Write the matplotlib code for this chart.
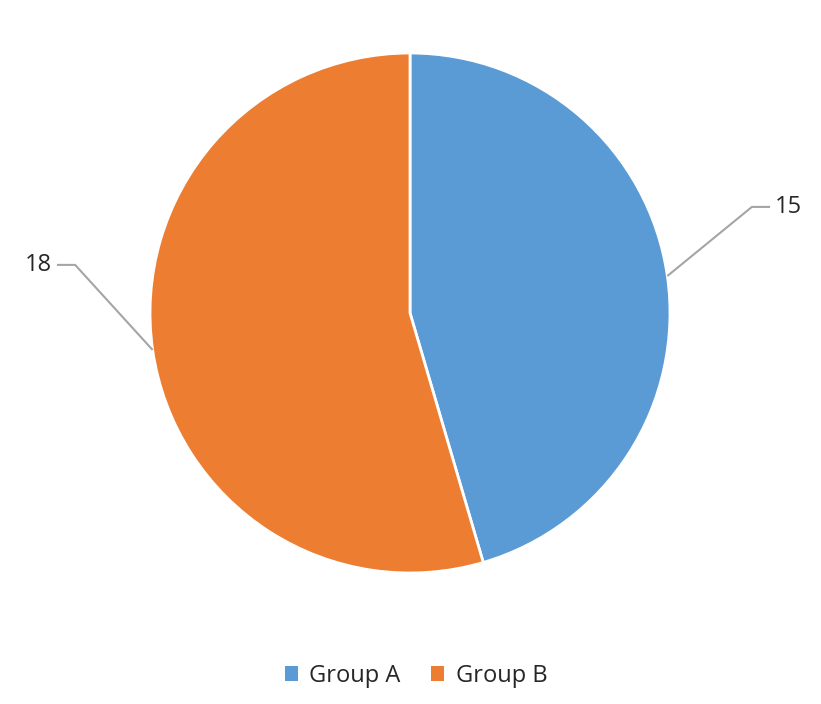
import numpy as np
import matplotlib.pyplot as plt
from matplotlib.patches import Patch

# data
groups = ['Group A', 'Group B']
values = [15, 18]
colors = ['#5B9BD5', '#ED7D31']

plt.rcParams['font.family'] = ['Open Sans', 'DejaVu Sans']

fig = plt.figure(figsize=(8.21, 7.04), dpi=100)
ax = fig.add_axes([0.1827, 0.1861, 0.6334, 0.7386])

wedges, _ = ax.pie(values, colors=colors, startangle=90, counterclock=False,
                   radius=1.0,
                   wedgeprops=dict(edgecolor='white', linewidth=2))
ax.set_xlim(-1, 1)
ax.set_ylim(-1, 1)
ax.set_aspect('equal')
ax.axis('off')

# leader lines + data labels
elbows = [(1.315, 0.408), (-1.288, 0.185)]
for w, val, (ex, ey) in zip(wedges, values, elbows):
    ang = np.deg2rad((w.theta1 + w.theta2) / 2)
    px, py = np.cos(ang), np.sin(ang)
    side = 1 if ex > 0 else -1
    hx = ex + side * 0.07
    ax.plot([px, ex, hx], [py, ey, ey], color='#A5A5A5', lw=1.5,
            clip_on=False, solid_capstyle='butt')
    ax.text(hx + side * 0.02, ey, str(val), ha='left' if side > 0 else 'right',
            va='center', fontsize=17, color='#262626')

handles = [Patch(facecolor=c, edgecolor='none') for c in colors]
fig.legend(handles, groups, loc='center', bbox_to_anchor=(0.507, 0.04), ncol=2,
           frameon=False, fontsize=17, handlelength=0.55, handleheight=0.55,
           handletextpad=0.5, columnspacing=1.3, labelcolor='#262626')

fig.savefig('out.png', dpi=100)
